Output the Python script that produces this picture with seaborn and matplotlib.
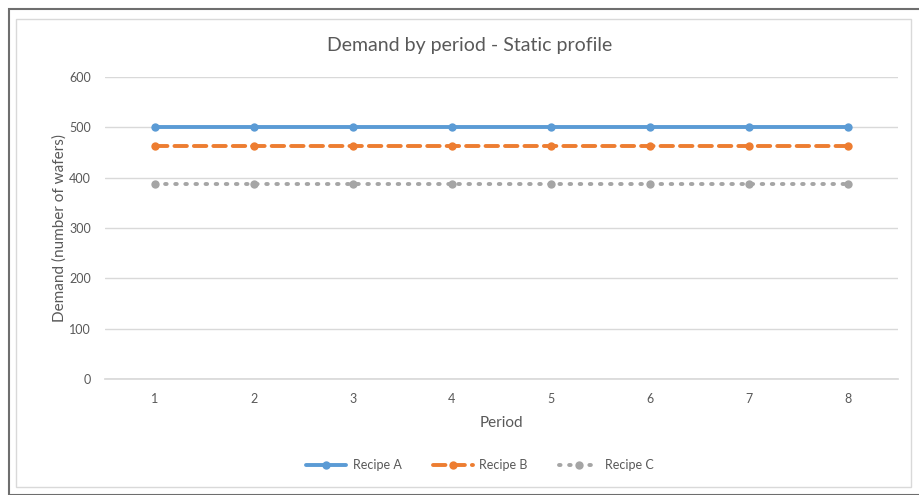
import matplotlib
matplotlib.use("Agg")
import matplotlib.pyplot as plt
from matplotlib.patches import Rectangle
import pandas as pd
import seaborn as sns

periods = [1, 2, 3, 4, 5, 6, 7, 8]
recipe_a = [500, 500, 500, 500, 500, 500, 500, 500]
recipe_b = [462, 462, 462, 462, 462, 462, 462, 462]
recipe_c = [387, 387, 387, 387, 387, 387, 387, 387]
series_names = ["Recipe A", "Recipe B", "Recipe C"]

sns.set_theme(style="white")
plt.rcParams['font.family'] = ['Lato', 'DejaVu Sans']
text_col = "#595959"

df = pd.DataFrame({
    'Period': periods * 3,
    'Demand': recipe_a + recipe_b + recipe_c,
    'Recipe': [n for n in series_names for _ in periods],
})

fig = plt.figure(figsize=(9.19, 4.95), dpi=100)
# outer frame like the spreadsheet export
fig.patches.append(Rectangle((9 / 919, 0), 1, 1 - 9 / 495, transform=fig.transFigure,
                             fill=False, edgecolor="#6e6e6e", linewidth=1.5))
fig.patches.append(Rectangle((16 / 919, 8 / 495), 895 / 919, 1 - 27 / 495, transform=fig.transFigure,
                             fill=False, edgecolor="#d9d9d9", linewidth=1))

ax = fig.add_axes([105 / 919, 1 - 379 / 495, (898 - 105) / 919, (379 - 77) / 495])

palette = {"Recipe A": "#5B9BD5", "Recipe B": "#ED7D31", "Recipe C": "#A5A5A5"}
dashes = {"Recipe A": "", "Recipe B": (3.2, 1.8), "Recipe C": (0.4, 2.2)}
sns.lineplot(data=df, x='Period', y='Demand', hue='Recipe', style='Recipe',
             palette=palette, dashes=dashes, markers={n: 'o' for n in series_names},
             markersize=6, markeredgewidth=0, linewidth=2.8, ax=ax, legend=True)
for line in ax.lines:
    line.set_dash_capstyle('round')

ax.set_xlim(0.5, 8.5)
ax.set_ylim(0, 600)
ax.set_yticks(range(0, 601, 100))
ax.set_xticks(periods)
ax.grid(axis='y', color="#d9d9d9", linewidth=1)
ax.set_axisbelow(True)
for s in ['top', 'right', 'left']:
    ax.spines[s].set_visible(False)
ax.spines['bottom'].set_color("#d9d9d9")
ax.tick_params(axis='both', length=0, labelsize=9, labelcolor=text_col, pad=10)
ax.set_xlabel("Period", fontsize=11, color=text_col, labelpad=8)
ax.set_ylabel("Demand (number of wafers)", fontsize=11, color=text_col, labelpad=2)
fig.text(470 / 919, 1 - 45 / 495, "Demand by period - Static profile", fontsize=14,
         color=text_col, ha='center', va='center')

handles, labels = ax.get_legend_handles_labels()
ax.get_legend().remove()
fig.legend(handles, labels, loc='center', bbox_to_anchor=(480 / 919, 1 - 465 / 495), ncol=3,
           frameon=False, fontsize=9, labelcolor=text_col, handlelength=3.2,
           columnspacing=2.5, handletextpad=0.5)

fig.savefig("out.png", dpi=100)
